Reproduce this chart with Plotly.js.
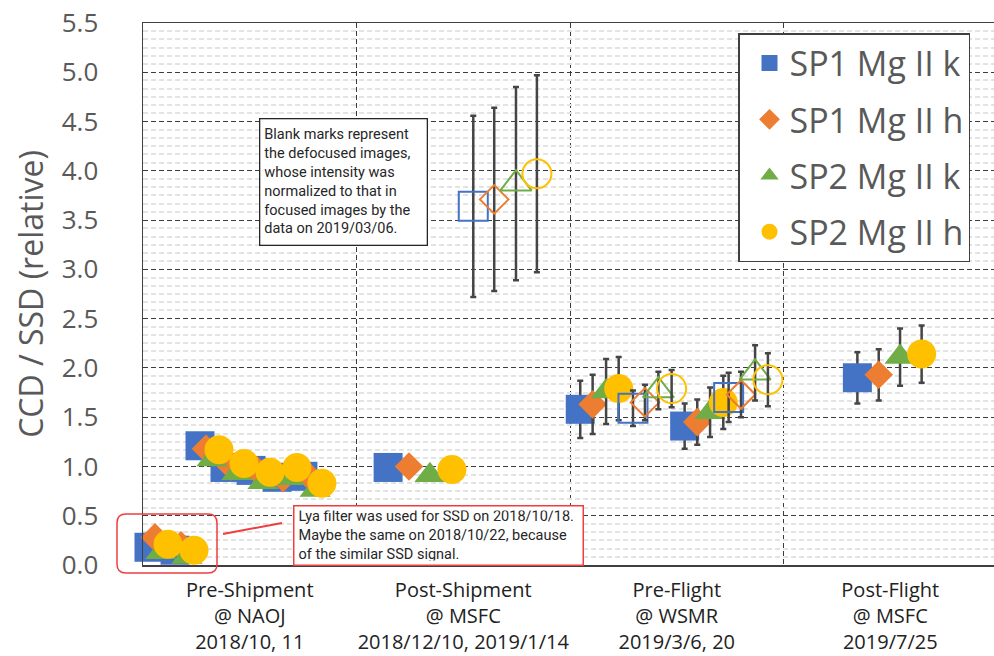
<!DOCTYPE html>
<html>
<head>
<meta charset="utf-8">
<script src="https://cdn.plot.ly/plotly-3.0.1.min.js"></script>
<style>html,body{margin:0;padding:0;background:#fff;}#chart{width:994px;height:656px;}</style>
</head>
<body>
<div id="chart"></div>
<script>
// ---------------- data ----------------
const categories = ["Pre-Shipment<br>@ NAOJ<br>2018/10, 11",
                    "Post-Shipment<br>@ MSFC<br>2018/12/10, 2019/1/14",
                    "Pre-Flight<br>@ WSMR<br>2019/3/6, 20",
                    "Post-Flight<br>@ MSFC<br>2019/7/25"];
const categoryPos = [0.5, 1.5, 2.5, 3.5];
const seriesNames = ["SP1 Mg II k", "SP1 Mg II h", "SP2 Mg II k", "SP2 Mg II h"];

// focused images (filled marks)
const sp1k_x = [0.028, 0.150, 0.267, 0.384, 0.506, 0.628, 0.749, 1.148, 2.048, 2.537, 3.346];
const sp1k_y = [0.18, 0.15, 1.21, 0.99, 0.96, 0.89, 0.90, 0.99, 1.58, 1.41, 1.90];
const sp1k_e = [NaN, NaN, NaN, NaN, NaN, NaN, NaN, NaN, 0.29, 0.23, 0.26];

const sp1h_x = [0.056, 0.178, 0.295, 0.412, 0.534, 0.656, 0.773, 1.246, 2.106, 2.596, 3.446];
const sp1h_y = [0.28, 0.20, 1.18, 1.00, 0.96, 0.88, 0.91, 1.00, 1.63, 1.45, 1.93];
const sp1h_e = [NaN, NaN, NaN, NaN, NaN, NaN, NaN, NaN, 0.30, 0.23, 0.26];

const sp2k_x = [0.084, 0.206, 0.323, 0.440, 0.562, 0.684, 0.806, 1.344, 2.169, 2.656, 3.546];
const sp2k_y = [0.13, 0.08, 1.07, 0.93, 0.84, 0.88, 0.76, 0.91, 1.76, 1.55, 2.11];
const sp2k_e = [NaN, NaN, NaN, NaN, NaN, NaN, NaN, NaN, 0.33, 0.25, 0.29];

const sp2h_x = [0.117, 0.239, 0.356, 0.473, 0.595, 0.721, 0.838, 1.447, 2.228, 2.718, 3.647];
const sp2h_y = [0.21, 0.15, 1.17, 1.03, 0.94, 0.99, 0.83, 0.97, 1.79, 1.65, 2.14];
const sp2h_e = [NaN, NaN, NaN, NaN, NaN, NaN, NaN, NaN, 0.32, 0.27, 0.29];

// defocused images (blank marks)
const sp1k_open_x = [1.547, 2.295, 2.743];
const sp1k_open_y = [3.64, 1.59, 1.70];
const sp1k_open_e = [0.92, 0.18, 0.25];

const sp1h_open_x = [1.645, 2.351, 2.801];
const sp1h_open_y = [3.71, 1.65, 1.73];
const sp1h_open_e = [0.93, 0.18, 0.23];

const sp2k_open_x = [1.747, 2.414, 2.867];
const sp2k_open_y = [3.87, 1.77, 1.95];
const sp2k_open_e = [0.98, 0.19, 0.28];

const sp2h_open_x = [1.845, 2.476, 2.927];
const sp2h_open_y = [3.97, 1.79, 1.88];
const sp2h_open_e = [1.00, 0.19, 0.27];

// ---------------- styles ----------------
const colors = ["#4472C4", "#ED7D31", "#70AD47", "#FFC000"];
const symbols = ["square", "diamond", "triangle-up", "circle"];
const sizes = [29, 22, 27, 29];
const errColor = "#454545";

const filled = [[sp1k_x, sp1k_y, sp1k_e], [sp1h_x, sp1h_y, sp1h_e], [sp2k_x, sp2k_y, sp2k_e], [sp2h_x, sp2h_y, sp2h_e]];
const opened = [[sp1k_open_x, sp1k_open_y, sp1k_open_e], [sp1h_open_x, sp1h_open_y, sp1h_open_e],
                [sp2k_open_x, sp2k_open_y, sp2k_open_e], [sp2h_open_x, sp2h_open_y, sp2h_open_e]];

function errBar(arr) {
  return {type: "data", array: arr, visible: true, color: errColor, thickness: 2.5, width: 3};
}

const traces = [];
for (let i = 0; i < 4; i++) {
  traces.push({
    type: "scatter", mode: "markers", name: seriesNames[i],
    legendgroup: "g" + i,
    x: filled[i][0], y: filled[i][1], error_y: errBar(filled[i][2]),
    marker: {symbol: symbols[i], size: sizes[i], color: colors[i], line: {width: 0}},
    cliponaxis: false
  });
}
for (let i = 0; i < 4; i++) {
  traces.push({
    type: "scatter", mode: "markers", name: seriesNames[i] + " (defocused)",
    legendgroup: "g" + i, showlegend: false,
    x: opened[i][0], y: opened[i][1], error_y: errBar(opened[i][2]),
    marker: {symbol: symbols[i] + "-open", size: sizes[i], color: colors[i], line: {width: 2, color: colors[i]}},
    cliponaxis: false
  });
}

// ---------------- layout helpers (pixel -> paper) ----------------
const L = 143, R = 994, T = 23, B = 565;
const PX = p => (p - L) / (R - L);
const PY = p => (B - p) / (B - T);

function roundRect(x0, y0, x1, y1, r) {
  const rx = r / (R - L), ry = r / (B - T);
  const a = PX(x0), b = PX(x1), top = PY(y0), bot = PY(y1);
  return `M ${a + rx},${top} L ${b - rx},${top} Q ${b},${top} ${b},${top - ry} ` +
         `L ${b},${bot + ry} Q ${b},${bot} ${b - rx},${bot} L ${a + rx},${bot} ` +
         `Q ${a},${bot} ${a},${bot + ry} L ${a},${top - ry} Q ${a},${top} ${a + rx},${top} Z`;
}

// light minor gridlines: six per major interval, skipping the major (dashed) positions
const minorGridVals = [];
for (let k = 1; k < 66; k++) { if (k % 6 !== 0) minorGridVals.push(k / 12); }

const layout = {
  width: 994, height: 656,
  margin: {l: L, r: 0, t: T, b: 656 - B, pad: 0},
  paper_bgcolor: "#ffffff", plot_bgcolor: "#ffffff",
  font: {family: "Open Sans, Noto Sans, sans-serif", color: "#595959"},
  showlegend: true,
  legend: {
    x: PX(738), y: PY(33), xanchor: "left", yanchor: "top",
    bgcolor: "#ffffff", bordercolor: "#404040", borderwidth: 1.5,
    font: {family: "Open Sans, sans-serif", size: 34, color: "#595959"},
    tracegroupgap: 9, traceorder: "grouped", itemsizing: "trace", indentation: 10
  },
  xaxis: {
    range: [0, (R - L) / 213.5], fixedrange: true,
    tickmode: "array", tickvals: categoryPos, ticktext: categories,
    ticks: "", showgrid: false, zeroline: false,
    showline: true, linecolor: "#404040", linewidth: 1.5, mirror: true,
    tickfont: {family: "Open Sans, sans-serif", size: 20, color: "#222222"},
    ticklabelstandoff: 6,
    minor: {tick0: 0, dtick: 1, showgrid: true, gridcolor: "#3c3c3c", gridwidth: 1, griddash: "5px,3px", ticks: ""}
  },
  yaxis: {
    range: [0, 5.5], fixedrange: true,
    tickmode: "linear", tick0: 0, dtick: 0.5, tickformat: ".1f",
    ticks: "", showgrid: true, gridcolor: "#3c3c3c", gridwidth: 1, griddash: "5px,3px",
    zeroline: false, showline: true, linecolor: "#404040", linewidth: 1.5, mirror: true,
    tickfont: {family: "Open Sans, sans-serif", size: 26, color: "#595959"},
    ticklabelstandoff: 38,
    minor: {tickmode: "array", tickvals: minorGridVals, showgrid: true, gridcolor: "#e3e3e3", gridwidth: 2, ticks: ""},
    title: {text: "CCD / SSD (relative)", font: {family: "Open Sans, sans-serif", size: 32, color: "#595959"}, standoff: 8}
  },
  shapes: [
    {type: "path", xref: "paper", yref: "paper", path: roundRect(117, 514, 217, 573, 9),
     line: {color: "#EE3E3E", width: 1.5}, fillcolor: "rgba(0,0,0,0)", layer: "above"},
    {type: "line", xref: "paper", yref: "paper", x0: PX(223), y0: PY(534), x1: PX(282), y1: PY(523),
     line: {color: "#EE3E3E", width: 2}, layer: "above"}
  ],
  annotations: [
    {xref: "paper", yref: "paper", x: PX(259), y: PY(118), xanchor: "left", yanchor: "top",
     text: "Blank marks represent<br>the defocused images,<br>whose intensity was<br>normalized to that in<br>focused images by the<br>data on 2019/03/06.",
     align: "left", valign: "middle", showarrow: false, width: 158, height: 117,
     bgcolor: "#ffffff", bordercolor: "#262626", borderwidth: 1.3, borderpad: 4,
     font: {family: "Roboto, sans-serif", size: 14.5, color: "#262626"}},
    {xref: "paper", yref: "paper", x: PX(293), y: PY(505), xanchor: "left", yanchor: "top",
     text: "Lya filter was used for SSD on 2018/10/18.<br>Maybe the same on 2018/10/22, because<br>of the similar SSD signal.",
     align: "left", valign: "middle", showarrow: false, width: 280, height: 50,
     bgcolor: "#ffffff", bordercolor: "#EE3E3E", borderwidth: 1.5, borderpad: 4,
     font: {family: "Roboto, sans-serif", size: 14.5, color: "#262626"}}
  ]
};

Plotly.newPlot("chart", traces, layout, {displayModeBar: false, staticPlot: true});
</script>
</body>
</html>
